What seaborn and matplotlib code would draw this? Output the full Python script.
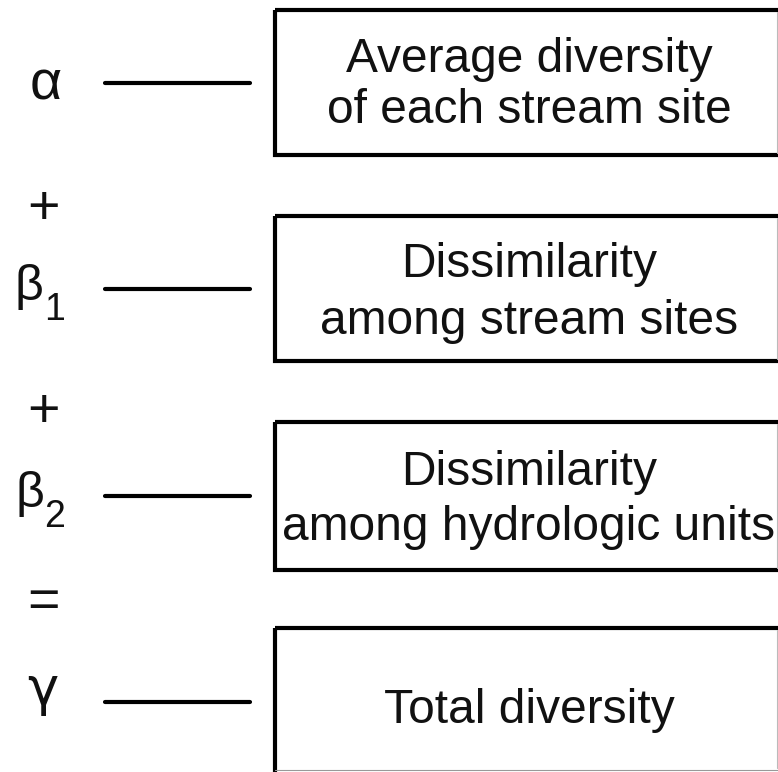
import matplotlib
matplotlib.use("Agg")
import matplotlib.pyplot as plt
from matplotlib.patches import Rectangle
import pandas as pd
import seaborn as sns

# ---- content ----
symbols = ["α", "β", "β", "γ"]
subscripts = ["", "1", "2", ""]
operators = ["+", "+", "="]
box_lines = [
    ["Average diversity", "of each stream site"],
    ["Dissimilarity", "among stream sites"],
    ["Dissimilarity", "among hydrologic units"],
    ["Total diversity"],
]

# ---- layout (pixel space) ----
W, H = 778, 772
box_top = [10, 216, 422, 628]
box_bot = [155, 361, 570, 800]
conn_y = [83, 289, 496, 702]
sym_base = [99, 300, 507, 705]
op_y = [204, 407, 597]
text_base = [[72, 123], [277, 334], [485, 540], [723]]

sns.set_theme(style="white")
plt.rcParams["font.family"] = ["Liberation Sans", "DejaVu Sans"]

fig = plt.figure(figsize=(W / 100, H / 100), dpi=100)
ax = fig.add_axes([0, 0, 1, 1])

# connector lines
conn = pd.DataFrame({
    "x": [105, 250] * 4,
    "y": [y for y in conn_y for _ in range(2)],
    "seg": [i for i in range(4) for _ in range(2)],
})
sns.lineplot(data=conn, x="x", y="y", units="seg", estimator=None,
             color="black", lw=3.0, ax=ax, legend=False, sort=False)
ax.set_xlim(0, W)
ax.set_ylim(H, 0)
ax.axis("off")

# boxes
for t, b in zip(box_top, box_bot):
    ax.add_patch(Rectangle((275, t), 600, b - t, fill=False,
                           edgecolor="black", lw=3.0))
    ax.plot([777, 777], [t + 2, min(b, 770) - 2], color="#bbbbbb", lw=0.8)
ax.plot([275, 778], [770, 770], color="#999999", lw=0.8)

# box texts
for lines, bases in zip(box_lines, text_base):
    for s, yb in zip(lines, bases):
        ax.text(529, yb, s, ha="center", va="baseline", fontsize=34.5,
                color="#111111")

# symbols
sym_size = [40, 36, 36, 38]
sym_x = [46, 29, 30, 43]
sym_font = [["Liberation Sans"], ["Liberation Sans"], ["Liberation Sans"],
            ["DejaVu Sans"]]
for s, x, yb, fs, ff in zip(symbols, sym_x, sym_base, sym_size, sym_font):
    ax.text(x, yb, s, ha="center", va="baseline", fontsize=fs,
            color="#111111", family=ff)
for sub, yb in zip(subscripts, sym_base):
    if sub:
        ax.text(55, yb + 20, sub, ha="center", va="baseline", fontsize=27,
                color="#111111")

for op, y in zip(operators, op_y):
    ax.text(44, y, op, ha="center", va="center_baseline", fontsize=40,
            color="#111111")

fig.savefig("out.png", dpi=100, facecolor="white")
